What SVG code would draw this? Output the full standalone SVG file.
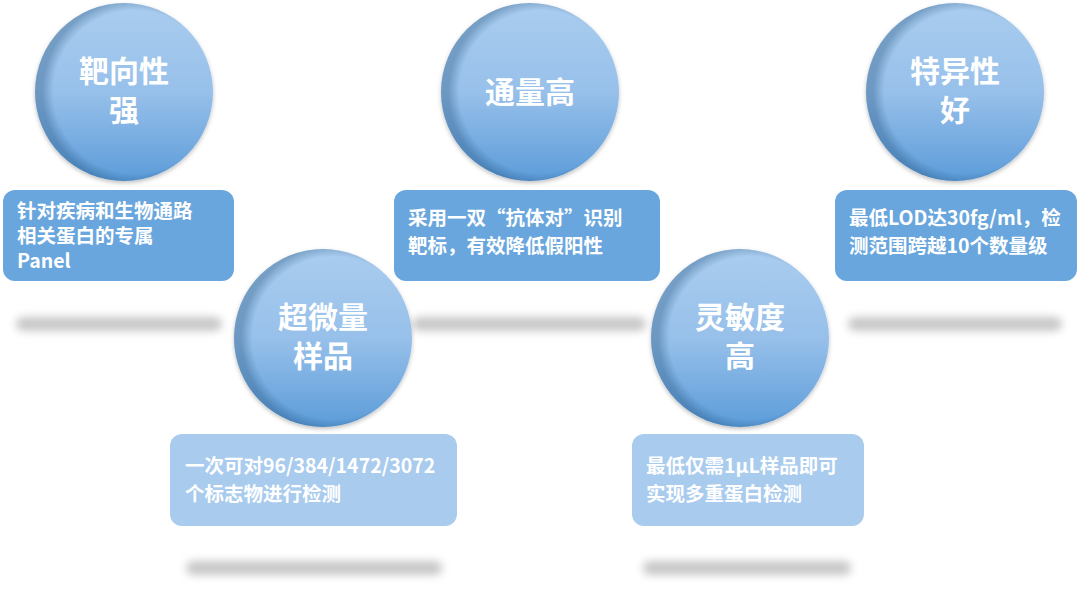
<svg xmlns="http://www.w3.org/2000/svg" width="1080" height="592" viewBox="0 0 1080 592">
<defs>
<linearGradient id="cg" x1="0" y1="0" x2="0" y2="1">
<stop offset="0" stop-color="#aacdef"/><stop offset="0.5" stop-color="#97c0ea"/><stop offset="1" stop-color="#5c9cd9"/>
</linearGradient>
<radialGradient id="edge" cx="0.56" cy="0.5" r="0.52">
<stop offset="0.88" stop-color="#1f4e79" stop-opacity="0"/><stop offset="1" stop-color="#1f4e79" stop-opacity="0.35"/>
</radialGradient>
<filter id="blur" x="-20%" y="-200%" width="140%" height="500%"><feGaussianBlur stdDeviation="4"/></filter>
<filter id="ds" x="-10%" y="-10%" width="120%" height="120%"><feDropShadow dx="0" dy="2" stdDeviation="2" flood-color="#000" flood-opacity="0.25"/></filter>
</defs>
<style>
.c{fill:url(#cg);filter:url(#ds)}
.e{fill:url(#edge)}
.bd{fill:#69a6dd}
.bl{fill:#a8cbee}
.sh{fill:#9a9a9a;opacity:0.55;filter:url(#blur)}
.ct{font-family:"Noto Sans CJK SC",sans-serif;font-weight:bold;font-size:30px;fill:#fff;text-anchor:middle}
.bt{font-family:"Noto Sans CJK SC",sans-serif;font-weight:bold;font-size:19.5px;fill:#fff}
</style>
<g id="shadows">
<rect class="sh" x="16" y="317" width="206" height="14" rx="7"/>
<rect class="sh" x="412" y="317" width="234" height="14" rx="7"/>
<rect class="sh" x="848" y="317" width="214" height="14" rx="7"/>
<rect class="sh" x="186" y="561" width="256" height="14" rx="7"/>
<rect class="sh" x="643" y="561" width="208" height="14" rx="7"/>
</g>
<g id="connectors"></g>
<g id="n1">
<rect class="bd" x="3" y="190" width="231" height="91" rx="12"/>
<text class="bt" x="17" y="218">针对疾病和生物通路</text>
<text class="bt" x="17" y="243">相关蛋白的专属</text>
<text class="bt" x="17" y="268">Panel</text>
<circle class="c" cx="124" cy="92" r="89"/><circle class="e" cx="124" cy="92" r="89"/>
<text class="ct" x="124" y="82">靶向性</text><text class="ct" x="124" y="121">强</text>
</g>
<g id="n3">
<rect class="bd" x="394" y="190" width="266" height="91" rx="12"/>
<text class="bt" x="408" y="225">采用一双“抗体对”识别</text>
<text class="bt" x="408" y="253">靶标，有效降低假阳性</text>
<circle class="c" cx="530" cy="92" r="89"/><circle class="e" cx="530" cy="92" r="89"/>
<text class="ct" x="530" y="103">通量高</text>
</g>
<g id="n5">
<rect class="bd" x="835" y="190" width="242" height="91" rx="12"/>
<text class="bt" x="849" y="225">最低LOD达30fg/ml，检</text>
<text class="bt" x="849" y="253">测范围跨越10个数量级</text>
<circle class="c" cx="955" cy="92" r="89"/><circle class="e" cx="955" cy="92" r="89"/>
<text class="ct" x="955" y="82">特异性</text><text class="ct" x="955" y="121">好</text>
</g>
<g id="n2">
<rect class="bl" x="170" y="434" width="287" height="92" rx="12"/>
<text class="bt" x="185" y="473">一次可对96/384/1472/3072</text>
<text class="bt" x="185" y="501">个标志物进行检测</text>
<circle class="c" cx="323" cy="338" r="89"/><circle class="e" cx="323" cy="338" r="89"/>
<text class="ct" x="323" y="328">超微量</text><text class="ct" x="323" y="367">样品</text>
</g>
<g id="n4">
<rect class="bl" x="632" y="434" width="232" height="92" rx="12"/>
<text class="bt" x="646" y="473">最低仅需1μL样品即可</text>
<text class="bt" x="646" y="501">实现多重蛋白检测</text>
<circle class="c" cx="740" cy="338" r="89"/><circle class="e" cx="740" cy="338" r="89"/>
<text class="ct" x="740" y="328">灵敏度</text><text class="ct" x="740" y="367">高</text>
</g>
</svg>
